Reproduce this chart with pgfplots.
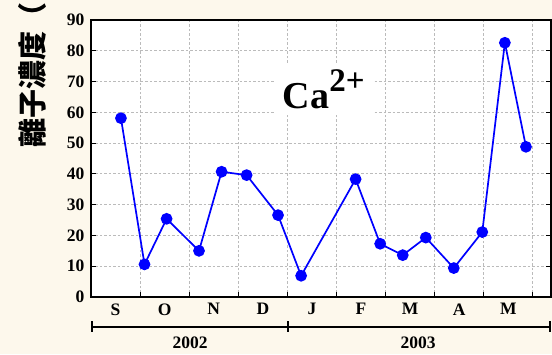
\documentclass[border=0pt]{standalone}
\usepackage{fontspec}
\setmainfont{Liberation Serif}
\newfontfamily\cjk{Noto Sans CJK TC}
\usepackage{pgfplots}
\pgfplotsset{compat=1.18}
\usetikzlibrary{backgrounds}
\definecolor{cream}{HTML}{FDF8EC}
\definecolor{gridgray}{HTML}{BBBBBB}
\begin{document}
\begin{tikzpicture}[x=1pt,y=1pt]
\begin{axis}[
  at={(0,0)}, anchor=south west,
  scale only axis, width=460pt, height=277pt,
  xmin=0, xmax=9.37, ymin=0, ymax=90,
  axis background/.style={fill=white},
  axis line style={line width=1.5pt},
  xtick={0.5,1.5,...,8.5},
  xticklabels={S,O,N,D,J,F,M,A,M},
  major x tick style={draw=none},
  minor xtick={1,2,...,9},
  xminorgrids,
  ytick={0,10,...,90},
  ymajorgrids,
  grid style={dash pattern=on 2.5pt off 2pt, gridgray, line width=0.9pt},
  minor grid style={dash pattern=on 2.5pt off 2pt, gridgray, line width=0.9pt},
  tick align=inside,
  xtick pos=left,
  tick style={black, line width=0.9pt},
  major tick length=5pt, minor tick length=5pt,
  ticklabel style={font=\fontsize{17.5}{17.5}\selectfont\bfseries},
  xticklabel style={yshift=-3pt},
  yticklabel style={xshift=-3pt},
  /pgf/number format/assume math mode=true,
  clip=false,
]
\addplot[blue, line width=1.7pt, mark=*, mark size=5pt, mark options={fill=blue, draw=blue, solid}]
coordinates {
(0.61,58.1) (1.09,10.6) (1.54,25.4) (2.20,15.0) (2.66,40.7) (3.17,39.6)
(3.81,26.6) (4.28,6.9) (5.39,38.3) (5.89,17.3) (6.35,13.6) (6.82,19.3)
(7.39,9.4) (7.97,21.1) (8.43,82.6) (8.86,48.8)
};
\node[fill=white, inner xsep=9pt, inner ysep=5pt, anchor=base west]
  at (axis cs:3.72,61.4)
  {\fontsize{38}{40}\selectfont\bfseries Ca\raisebox{17pt}{\fontsize{33}{33}\selectfont 2+}};
\end{axis}
% year bracket
\draw[line width=1.8pt] (0.7,-29.7) -- (459,-29.7);
\foreach \xx in {0.7,197,459} \draw[line width=1.8pt] (\xx,-24.2) -- (\xx,-35.2);
\node[font=\fontsize{17.5}{17.5}\selectfont\bfseries] at (99,-45.7) {2002};
\node[font=\fontsize{17.5}{17.5}\selectfont\bfseries] at (327,-45.7) {2003};
% y label
\node[rotate=90, anchor=west, inner sep=0pt, font=\cjk\bfseries\fontsize{29}{29}\selectfont] at (-59,149) {離子濃度（};
\pgfresetboundingbox
\useasboundingbox (-91,-57) rectangle (461,297);
\begin{scope}[on background layer]
\fill[cream] (-91,-57) rectangle (461,297);
\end{scope}
\end{tikzpicture}
\end{document}
